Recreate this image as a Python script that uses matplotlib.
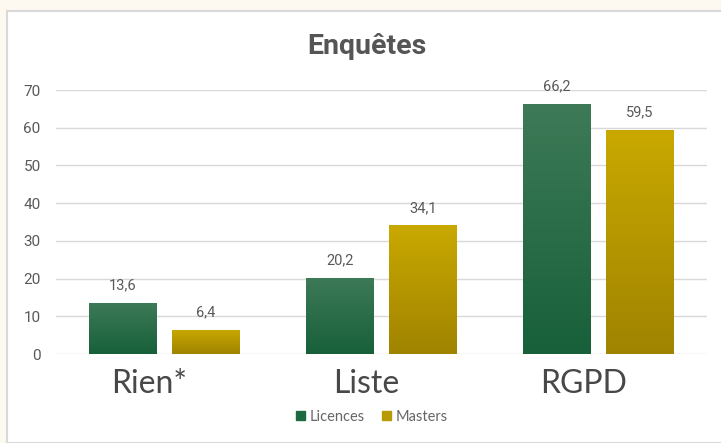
import numpy as np
import matplotlib.pyplot as plt
import matplotlib.transforms as mtransforms
from matplotlib.colors import LinearSegmentedColormap
from matplotlib.patches import Rectangle

categories = ["Rien*", "Liste", "RGPD"]
licences = [13.6, 20.2, 66.2]
masters = [6.4, 34.1, 59.5]
series_names = ["Licences", "Masters"]
yticks = [0, 10, 20, 30, 40, 50, 60, 70]

fig = plt.figure(figsize=(7.21, 4.43), dpi=100)
fig.patch.set_facecolor("#fdf8f0")

# white card behind the chart
card = Rectangle((7 / 721, 0), 1, 1 - 11 / 443, transform=fig.transFigure,
                 facecolor="white", edgecolor="#d9d9d9", linewidth=1.5, zorder=-10)
fig.patches.append(card)

ax = fig.add_axes([56 / 721, (443 - 354) / 443, 651 / 721, 264 / 443])
ax.set_facecolor("none")

x = np.arange(len(categories))
w = 0.313
off = 0.191

green_cmap = LinearSegmentedColormap.from_list("g", ["#17603a", "#3e7a57"])
gold_cmap = LinearSegmentedColormap.from_list("y", ["#a08300", "#c9a900"])

bars_l = ax.bar(x - off, licences, w, color="#1d6a40", label=series_names[0], zorder=2)
bars_m = ax.bar(x + off, masters, w, color="#b89a00", label=series_names[1], zorder=2)

# vertical gradient on each bar
grad = np.linspace(0, 1, 256).reshape(-1, 1)
for bars, cmap in [(bars_l, green_cmap), (bars_m, gold_cmap)]:
    for b in bars:
        bx, by = b.get_x(), b.get_y()
        bw, bh = b.get_width(), b.get_height()
        im = ax.imshow(grad, cmap=cmap, origin="lower", aspect="auto",
                       extent=[bx, bx + bw, by, by + bh], zorder=3)
        im.set_clip_path(b)

for bars, vals in [(bars_l, licences), (bars_m, masters)]:
    for b, v in zip(bars, vals):
        ax.text(b.get_x() + b.get_width() / 2, v + 2.8, f"{v:.1f}".replace(".", ","),
                ha="center", va="bottom", fontsize=10.5, color="#595959",
                family="Roboto", zorder=4)

ax.set_xlim(-0.5, 2.5)
ax.set_ylim(0, 70)
ax.set_yticks(yticks)
ax.set_yticklabels([str(t) for t in yticks], fontsize=11, color="#595959",
                   family="Roboto")
ax.yaxis.grid(True, color="#d9d9d9", linewidth=1)
ax.set_axisbelow(True)
ax.tick_params(axis="y", length=0, pad=11)
ax.tick_params(axis="x", length=0, pad=11)
ax.set_xticks(x)
ax.set_xticklabels(categories, fontsize=23, color="#484848", family="Lato")
# category labels sit a bit left of the bar groups in the original
shift = mtransforms.ScaledTranslation(-15 / 100, 0, fig.dpi_scale_trans)
for lbl in ax.get_xticklabels():
    lbl.set_transform(lbl.get_transform() + shift)
for s in ax.spines.values():
    s.set_visible(False)

fig.text(367 / 721, 1 - 47 / 443, "Enquêtes", ha="center", va="center",
         fontsize=20.5, fontweight="bold", color="#555555", family="Roboto")

leg = fig.legend(handles=[bars_l, bars_m], labels=series_names, loc="center",
                 bbox_to_anchor=(372 / 721, 1 - 417 / 443), ncol=2, frameon=False,
                 prop={"family": "Lato", "size": 10.5},
                 handlelength=0.6, handleheight=0.6, handletextpad=0.3,
                 columnspacing=1.2)
for t in leg.get_texts():
    t.set_color("#666666")
leg.legend_handles[0].set_color("#1d6a40")
leg.legend_handles[1].set_color("#b89a00")

fig.savefig("out.png", dpi=100, facecolor=fig.get_facecolor())
